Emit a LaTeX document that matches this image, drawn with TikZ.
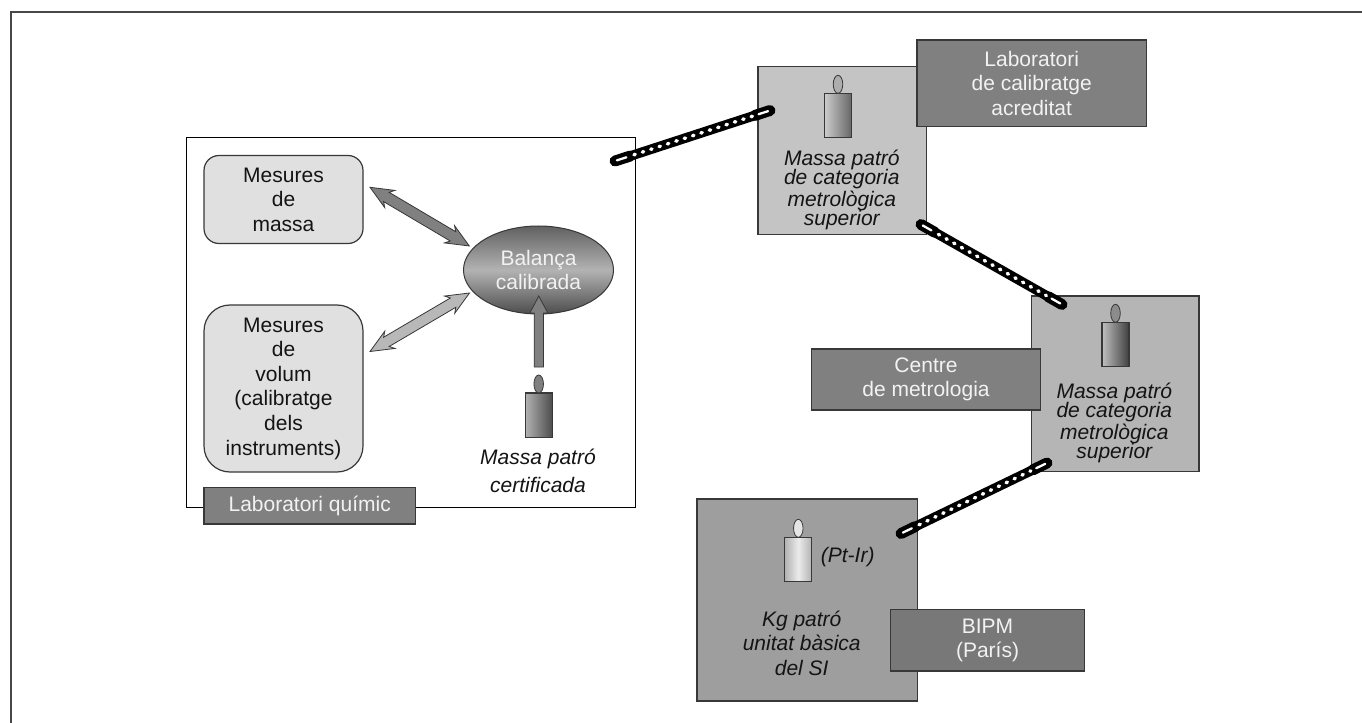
\documentclass[tikz,border=0pt]{standalone}
\usepackage{fontspec}
\setmainfont{Liberation Sans}
\usetikzlibrary{calc,shapes.geometric}
\definecolor{ink}{gray}{0.08}
\definecolor{edge}{gray}{0.22}
\definecolor{tagfill}{gray}{0.5}
\definecolor{tagtext}{gray}{0.95}
\newcommand{\txt}[1]{\fontsize{15.75}{#1}\selectfont}
\tikzset{
  x=.75pt,y=-.75pt,
  sz/.style 2 args={minimum width=#1*.75pt,minimum height=#2*.75pt,inner sep=0pt,outer sep=0pt},
  framebox/.style={draw=edge,line width=.9pt,align=center,text=ink,font=\txt{18.45pt}},
  softbox/.style={framebox,fill=black!12,rounded corners=#1*.75pt},
  tagbox/.style={framebox,fill=tagfill,text=tagtext},
  ital/.style={align=center,text=ink,inner sep=0pt,font=\txt{14.8pt}\itshape},
  blockarrow/.style={draw=edge,line width=.6pt,line join=miter},
}
% candle: name, centre x, rect top y, left colour, mid/right colour, flame colour
\newcommand{\candle}[5]{%
  \node[sz={27}{44.5},draw=edge,line width=.8pt,left color=#3,right color=#4,anchor=north] (#1body) at #2 {};
  \node[sz={9.5}{18},ellipse,draw=edge,line width=.6pt,fill=#5,anchor=south] (#1top) at (#1body.north) {};
}
% double-headed block arrow between named coordinates
\newcommand{\dblarrow}[3]{%
  \draw[blockarrow,fill=#3]
    (#1)
    -- ($(#1)!23*.75pt!(#2)!10*.75pt!90:(#2)$)
    -- ($(#1)!19*.75pt!(#2)!5.4*.75pt!90:(#2)$)
    -- ($(#2)!19*.75pt!(#1)!5.4*.75pt!-90:(#1)$)
    -- ($(#2)!23*.75pt!(#1)!10*.75pt!-90:(#1)$)
    -- (#2)
    -- ($(#2)!23*.75pt!(#1)!10*.75pt!90:(#1)$)
    -- ($(#2)!19*.75pt!(#1)!5.4*.75pt!90:(#1)$)
    -- ($(#1)!19*.75pt!(#2)!5.4*.75pt!-90:(#2)$)
    -- ($(#1)!23*.75pt!(#2)!10*.75pt!-90:(#2)$)
    -- cycle;
}
% chain between named coordinates
\newcommand{\chainlink}[2]{%
  \draw[black,line width=7.2pt,line cap=round] (#1) -- (#2);
  \draw[black,line width=8.2pt,line cap=round] (#1) -- ($(#1)!16*.75pt!(#2)$);
  \draw[black,line width=8.2pt,line cap=round] (#2) -- ($(#2)!16*.75pt!(#1)$);
  \draw[white,line width=1.7pt,line cap=round] ($(#1)!2*.75pt!(#2)$) -- ($(#1)!12*.75pt!(#2)$);
  \draw[white,line width=1.7pt,line cap=round] ($(#2)!2*.75pt!(#1)$) -- ($(#2)!12*.75pt!(#1)$);
  \draw[white,line width=2.6pt,line cap=round,dash pattern=on 1pt off 5.6pt] ($(#1)!20*.75pt!(#2)$) -- ($(#2)!18*.75pt!(#1)$);
}
\begin{document}
\begin{tikzpicture}
\useasboundingbox (0,0) rectangle (1362,723);
\fill[white] (0,0) rectangle (1362,723);
% page frame
\coordinate (fa) at (1362,12);
\coordinate (fb) at (11,12);
\coordinate (fc) at (11,723);
\draw[black!72,line width=1.6pt] (fa) -- (fb) -- (fc);

% chemistry lab
\node[sz={449.5}{370},draw=black,line width=.75pt,fill=white] (lab) at (411,322.5) {};
\node[softbox=15,sz={159}{88}] (massa) at (283.5,199.5) {Mesures\\de\\massa};
\node[softbox=26,sz={159}{167}] (volum) at (283.5,388.5) {Mesures\\de\\volum\\(calibratge\\dels\\instruments)};
\node[sz={150}{88},ellipse,draw=edge,line width=.75pt,top color=black!62,bottom color=black!70,middle color=black!30,text=tagtext,align=center,font=\txt{18.45pt}] (bal) at (538.5,270) {Balança\\calibrada};
\node[tagbox,sz={211.5}{36.5}] (labtag) at (309.7,505.7) {Laboratori químic};

\coordinate (a1a) at (370,187.3);
\coordinate (a1b) at (469.3,246);
\dblarrow{a1a}{a1b}{black!50}
\coordinate (a2a) at (370,351.5);
\coordinate (a2b) at (469.5,293);
\dblarrow{a2a}{a2b}{black!28}

\candle{c1}{(538.7,393)}{black!30}{black!70}{black!50}
\coordinate (upbase) at (538.8,367);
\coordinate (uptip) at (538.8,296);
\draw[blockarrow,fill=black!50] ($(upbase)+(-4.6,0)$) -- ($(uptip)+(-4.6,17)$) -- ($(uptip)+(-9,17)$) -- (uptip) -- ($(uptip)+(9,17)$) -- ($(uptip)+(4.6,17)$) -- ($(upbase)+(4.6,0)$) -- cycle;
\node[ital,font=\txt{21pt}\itshape] (c1t) at (538,471) {Massa patró\\certificada};

% accredited lab
\node[framebox,fill=black!23,sz={168.4}{167.6}] (b2) at (842.2,150.5) {};
\node[tagbox,sz={229.5}{86.7}] (b2tag) at (1031.7,83.3) {Laboratori\\de calibratge\\acreditat};
\candle{c2}{(838,93.3)}{black!20}{black!60}{black!32}
\node[ital] (b2t) at (841.8,190) {Massa patró\\de categoria\\metrològica\\superior};

% metrology centre
\node[framebox,fill=black!29,sz={167.3}{175.3}] (b3) at (1115.3,383.7) {};
\node[tagbox,sz={229.4}{61}] (b3tag) at (926,379.5) {Centre\\de metrologia};
\candle{c3}{(1115.5,322.3)}{black!25}{black!75}{black!45}
\node[ital] (b3t) at (1114.3,423) {Massa patró\\de categoria\\metrològica\\superior};

% BIPM
\node[framebox,fill=black!38,sz={220.7}{202}] (b4) at (807.3,600) {};
\node[tagbox,fill=black!53,sz={194.4}{61.3}] (b4tag) at (987.5,640.3) {BIPM\\(París)};
\node[sz={27}{44.5},draw=edge,line width=.8pt,left color=black!30,right color=black!30,middle color=black!8,anchor=north] (c4body) at (798.3,537.3) {};
\node[sz={9.5}{18},ellipse,draw=edge,line width=.6pt,fill=black!10,anchor=south] (c4top) at (c4body.north) {};
\node[ital] (pt) at (847.7,556.7) {(Pt-Ir)};
\node[ital,font=\txt{18.45pt}\itshape] (b4t) at (801.7,643) {Kg patró\\unitat bàsica\\del SI};

% chains
\coordinate (ch1a) at (615,161);
\coordinate (ch1b) at (770,110.5);
\coordinate (ch2a) at (921,224.5);
\coordinate (ch2b) at (1062,304.5);
\coordinate (ch3a) at (901,533.5);
\coordinate (ch3b) at (1047,463);
\chainlink{ch1a}{ch1b}
\chainlink{ch2a}{ch2b}
\chainlink{ch3a}{ch3b}
\end{tikzpicture}
\end{document}
